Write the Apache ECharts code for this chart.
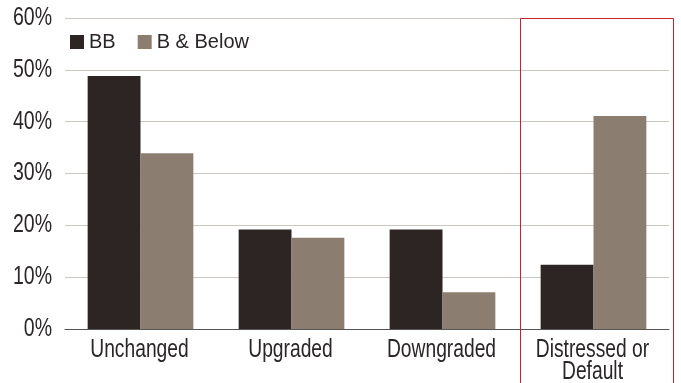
<!DOCTYPE html>
<html>
<head>
<meta charset="utf-8">
<script src="https://cdn.jsdelivr.net/npm/echarts@6/dist/echarts.min.js"></script>
<style>
  html, body { margin: 0; padding: 0; background: #fff; }
  #chart { width: 681px; height: 383px; }
</style>
</head>
<body>
<div id="chart"></div>
<script>
// Rating migration outcomes by starting rating bucket (percent of issuers)
const categories = ['Unchanged', 'Upgraded', 'Downgraded', 'Distressed or\nDefault'];
const seriesNames = ['BB', 'B & Below'];
const bbValues = [48.8, 19.2, 19.2, 12.4];
const bBelowValues = [33.9, 17.6, 7.1, 41.1];
const yTicks = [0, 10, 20, 30, 40, 50, 60];

const FONT = '"Liberation Sans", Arial, sans-serif';
const TEXT_COLOR = '#2a2627';
const COLORS = ['#2d2424', '#8b7e70'];
const HIGHLIGHT = '#c8202f';

const chart = echarts.init(document.getElementById('chart'), null, { renderer: 'canvas' });

chart.setOption({
  animation: false,
  backgroundColor: '#ffffff',
  textStyle: { fontFamily: FONT },
  grid: { left: 65, right: 12, top: 18, bottom: 54 },
  legend: {
    left: 70, top: 32, padding: 0,
    itemWidth: 14, itemHeight: 14, itemGap: 22,
    icon: 'rect',
    textStyle: { fontFamily: FONT, fontSize: 20, color: TEXT_COLOR },
    data: seriesNames
  },
  xAxis: {
    type: 'category',
    data: categories,
    axisTick: { show: false },
    axisLine: { lineStyle: { color: '#555555', width: 1 } },
    axisLabel: { show: false }
  },
  yAxis: {
    type: 'value',
    min: yTicks[0], max: yTicks[yTicks.length - 1], interval: 10,
    axisLine: { show: false },
    axisTick: { show: false },
    splitLine: { lineStyle: { color: '#cbc7c0', width: 1 } },
    axisLabel: { show: false }
  },
  series: [
    {
      name: seriesNames[0], type: 'bar', data: bbValues,
      barGap: '0%', barCategoryGap: '30%',
      itemStyle: { color: COLORS[0] }
    },
    {
      name: seriesNames[1], type: 'bar', data: bBelowValues,
      barGap: '0%', barCategoryGap: '30%',
      itemStyle: { color: COLORS[1] }
    }
  ]
});

// Condensed axis labels and the highlight box, positioned from the axes' scales
function drawOverlay() {
  const elements = [];

  // y-axis tick labels
  yTicks.forEach(v => {
    const y = chart.convertToPixel({ yAxisIndex: 0 }, v);
    elements.push({
      type: 'text', silent: true, x: 52, y: y, scaleX: 0.78,
      style: {
        x: 0, y: 0, text: v + '%', align: 'right', verticalAlign: 'middle',
        font: '25px ' + FONT, fill: TEXT_COLOR
      }
    });
  });

  // category labels
  const axisY = chart.convertToPixel({ yAxisIndex: 0 }, yTicks[0]);
  categories.forEach((c, i) => {
    const x = chart.convertToPixel({ xAxisIndex: 0 }, i);
    elements.push({
      type: 'text', silent: true, x: x - 1, y: axisY + 10, scaleX: 0.77,
      style: {
        x: 0, y: 0, text: c, align: 'center', verticalAlign: 'top',
        font: '25px ' + FONT, lineHeight: 22, fill: TEXT_COLOR
      }
    });
  });

  // outline around the last category group
  const last = categories.length - 1;
  const c3 = chart.convertToPixel({ xAxisIndex: 0 }, last);
  const c2 = chart.convertToPixel({ xAxisIndex: 0 }, last - 1);
  const band = c3 - c2;
  const top = chart.convertToPixel({ yAxisIndex: 0 }, yTicks[yTicks.length - 1]);
  const x0 = Math.round(c3 - band / 2 + 2) + 0.5;
  const x1 = Math.round(c3 + band / 2 + 4) + 0.5;
  elements.push({
    type: 'rect', silent: true, z: 100,
    shape: { x: x0, y: Math.round(top) + 0.5, width: x1 - x0, height: 400 },
    style: { fill: 'none', stroke: HIGHLIGHT, lineWidth: 1 }
  });

  chart.setOption({ graphic: elements });
}
drawOverlay();
</script>
</body>
</html>
